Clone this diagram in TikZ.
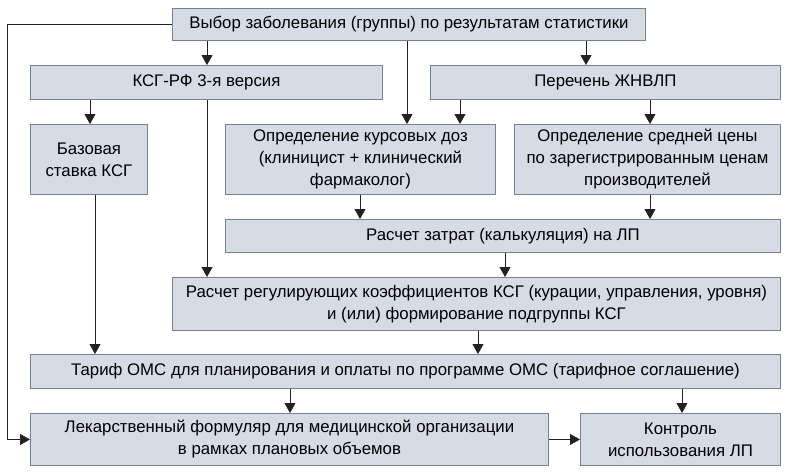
\documentclass[tikz,border=0pt]{standalone}
\usepackage{fontspec}
\setmainfont{Liberation Sans}
\usetikzlibrary{arrows.meta}
\definecolor{boxfill}{HTML}{D5DCE5}
\definecolor{boxline}{HTML}{75828F}
\definecolor{lnk}{HTML}{222222}
\tikzset{
  box/.style={draw=boxline, fill=boxfill, line width=0.9pt, anchor=north west,
    align=center, inner sep=0pt, font=\fontsize{16.8}{22}\selectfont},
  arr/.style={draw=lnk, line width=0.8pt, -{Triangle[width=11pt,length=10pt]}},
}
\begin{document}
\begin{tikzpicture}[x=1pt,y=-1pt]
\useasboundingbox (0,0) rectangle (791,472);
% boxes
\node[box, minimum width=473pt, minimum height=32pt] (top) at (172,8) {Выбор заболевания (группы) по результатам статистики};
\node[box, minimum width=352pt, minimum height=34pt] (ksg) at (30,65) {КСГ-РФ 3-я версия};
\node[box, minimum width=350pt, minimum height=34pt] (zhn) at (430,65) {Перечень ЖНВЛП};
\node[box, minimum width=117pt, minimum height=70pt] (baz) at (30,124) {Базовая\\ставка КСГ};
\node[box, minimum width=270pt, minimum height=70pt] (kur) at (225,124) {Определение курсовых доз\\(клиницист + клинический\\фармаколог)};
\node[box, minimum width=266pt, minimum height=70pt] (sred) at (514,124) {Определение средней цены\\по зарегистрированным ценам\\производителей};
\node[box, minimum width=555pt, minimum height=33pt] (zat) at (225,219) {Расчет затрат (калькуляция) на ЛП};
\node[box, minimum width=608pt, minimum height=53pt] (reg) at (172,277) {Расчет регулирующих коэффициентов КСГ (курации, управления, уровня)\\и (или) формирование подгруппы КСГ};
\node[box, minimum width=750pt, minimum height=34pt] (tar) at (30,354) {Тариф ОМС для планирования и оплаты по программе ОМС (тарифное соглашение)};
\node[box, minimum width=518pt, minimum height=52pt] (lek) at (30,413) {Лекарственный формуляр для медицинской организации\\в рамках плановых объемов};
\node[box, minimum width=200pt, minimum height=52pt] (kon) at (580,413) {Контроль\\использования ЛП};
% column coordinates
\coordinate (c90) at (90,0);
\coordinate (c95) at (95,0);
\coordinate (c207) at (207,0);
\coordinate (c290) at (290,0);
\coordinate (c360) at (360,0);
\coordinate (c407) at (407,0);
\coordinate (c460) at (460,0);
\coordinate (c478) at (478,0);
\coordinate (c505) at (505,0);
\coordinate (c586) at (586,0);
\coordinate (c650) at (650,0);
\coordinate (c682) at (682,0);
% connectors
\draw[arr] (top.south -| c207) -- (ksg.north -| c207);
\draw[arr] (top.south -| c586) -- (zhn.north -| c586);
\draw[arr] (top.south -| c407) -- (kur.north -| c407);
\draw[arr] (top.west) -- ++(-165,0) |- (lek.west);
\draw[arr] (ksg.south -| c90) -- (baz.north -| c90);
\draw[arr] (ksg.south -| c207) -- (reg.north -| c207);
\draw[arr] (zhn.south -| c460) -- (kur.north -| c460);
\draw[arr] (zhn.south -| c650) -- (sred.north -| c650);
\draw[arr] (kur.south -| c360) -- (zat.north -| c360);
\draw[arr] (sred.south -| c650) -- (zat.north -| c650);
\draw[arr] (zat.south -| c505) -- (reg.north -| c505);
\draw[arr] (baz.south -| c95) -- (tar.north -| c95);
\draw[arr] (reg.south -| c478) -- (tar.north -| c478);
\draw[arr] (tar.south -| c290) -- (lek.north -| c290);
\draw[arr] (tar.south -| c682) -- (kon.north -| c682);
\draw[arr] (lek.east) -- (kon.west);
\end{tikzpicture}
\end{document}
